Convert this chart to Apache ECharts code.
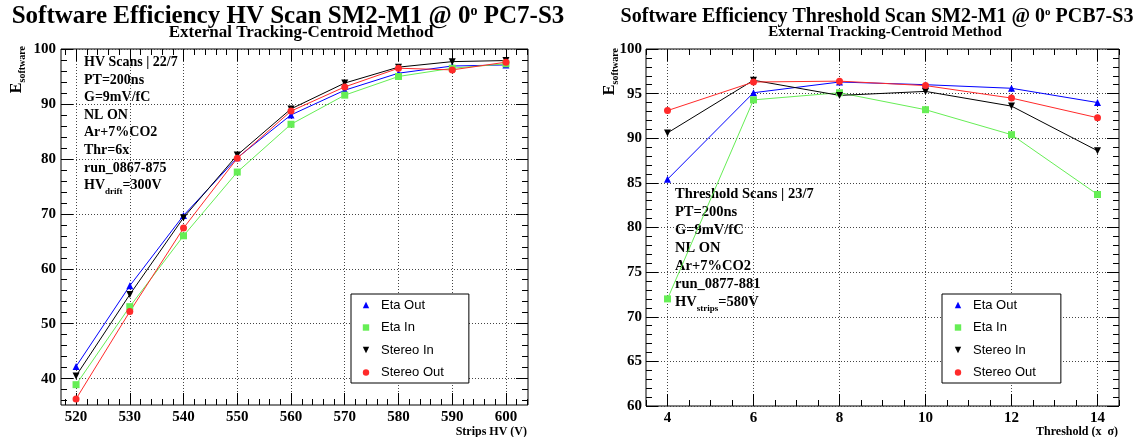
<!DOCTYPE html>
<html>
<head>
<meta charset="utf-8">
<title>Software Efficiency SM2-M1</title>
<script src="https://cdn.jsdelivr.net/npm/echarts@6/dist/echarts.min.js"></script>
<style>
  html, body { margin: 0; padding: 0; background: #fff; }
  #chart { width: 1143px; height: 437px; }
</style>
</head>
<body>
<div id="chart"></div>
<script>
// ---- HV scan (left pad) ----
var hvPoints = [520, 530, 540, 550, 560, 570, 580, 590, 600];
var hvEtaOut = [42.2, 56.9, 69.7, 80.2, 88.0, 92.5, 95.6, 96.9, 97.1];
var hvEtaIn = [38.9, 53.1, 66.0, 77.6, 86.3, 91.6, 95.0, 96.5, 97.3];
var hvStereoIn = [40.5, 55.3, 69.3, 80.7, 89.1, 93.8, 96.7, 97.7, 97.9];
var hvStereoOut = [36.3, 52.2, 67.4, 80.1, 88.7, 93.1, 96.5, 96.2, 97.6];

// ---- threshold scan (right pad) ----
var thrPoints = [4, 6, 8, 10, 12, 14];
var thrEtaOut = [85.4, 95.1, 96.3, 96.0, 95.6, 94.0];
var thrEtaIn = [72.0, 94.3, 95.1, 93.2, 90.4, 83.7];
var thrStereoIn = [90.6, 96.5, 94.8, 95.25, 93.6, 88.6];
var thrStereoOut = [93.1, 96.3, 96.4, 95.9, 94.5, 92.3];

var seriesNames = ['Eta Out', 'Eta In', 'Stereo In', 'Stereo Out'];

// tick labels
var hvTickLabels = [520, 530, 540, 550, 560, 570, 580, 590, 600];
var hvEffTickLabels = [40, 50, 60, 70, 80, 90, 100];
var thrTickLabels = [4, 6, 8, 10, 12, 14];
var thrEffTickLabels = [60, 65, 70, 75, 80, 85, 90, 95, 100];

// info boxes
var hvInfo = ['HV Scans | 22/7', 'PT=200ns', 'G=9mV/fC', 'NL ON', 'Ar+7%CO2', 'Thr=6x', 'run_0867-875', '{m|HV}{s|drift}{m|=300V}'];
var thrInfo = ['Threshold Scans | 23/7', 'PT=200ns', 'G=9mV/fC', 'NL ON', 'Ar+7%CO2', 'run_0877-881', '{m|HV}{s|strips}{m|=580V}'];

var markerStyles = [
    { color: '#0000ff', symbol: 'triangle', rotate: 0 },
    { color: '#66ee55', symbol: 'rect', rotate: 0 },
    { color: '#000000', symbol: 'triangle', rotate: 180 },
    { color: '#ff2a2a', symbol: 'circle', rotate: 0 }
];

var SERIF = '"Liberation Serif", "DejaVu Serif", serif';
var SANS = '"Liberation Sans", Arial, sans-serif';

function steps(from, to, step) {
    var out = [];
    for (var v = from; v <= to + 1e-9; v += step) out.push(Math.round(v * 100) / 100);
    return out;
}

// 4 axes per dimension: labelled major, minor, and the mirrored pair on the opposite side
function makeAxes(dim, gridIndex, min, max, major, minor, margin) {
    var sides = dim === 'x' ? ['bottom', 'top'] : ['left', 'right'];
    var list = [];
    sides.forEach(function (side, s) {
        [major, minor].forEach(function (ticks, m) {
            var isMain = s === 0 && m === 0;
            list.push({
                type: 'value',
                gridIndex: gridIndex,
                min: min,
                max: max,
                position: side,
                axisLine: { show: false, onZero: false },
                axisTick: { show: true, inside: true, length: m === 0 ? 12 : 6, customValues: ticks, lineStyle: { color: '#000', width: 1 } },
                axisLabel: { show: isMain, customValues: major, margin: margin, color: '#000', fontFamily: SERIF, fontWeight: 'bold', fontSize: 15 },
                splitLine: { show: isMain, lineStyle: { color: '#444', type: [1, 2], width: 1 } },
                minorTick: { show: false },
                minorSplitLine: { show: false }
            });
        });
    });
    return list;
}

function makeSeries(axisIndex, xs, columns) {
    return columns.map(function (ys, i) {
        var st = markerStyles[i];
        return {
            name: seriesNames[i],
            type: 'line',
            xAxisIndex: axisIndex,
            yAxisIndex: axisIndex,
            data: xs.map(function (x, j) { return [x, ys[j]]; }),
            symbol: st.symbol,
            symbolRotate: st.rotate,
            symbolSize: 7,
            lineStyle: { color: st.color, width: 1 },
            itemStyle: { color: st.color },
            emphasis: { disabled: true },
            animation: false
        };
    });
}

function makeLegend(left, padLeft) {
    return {
        data: seriesNames,
        orient: 'vertical',
        left: left,
        top: 294,
        itemWidth: 20,
        itemHeight: 8,
        itemGap: 8.5,
        padding: [4, 25, 3.5, padLeft],
        backgroundColor: '#fff',
        borderColor: '#000',
        borderWidth: 1,
        borderRadius: 0,
        selectedMode: false,
        lineStyle: { opacity: 0 },
        textStyle: { fontFamily: SANS, fontSize: 13, color: '#000', lineHeight: 14 }
    };
}

function textEl(x, y, text, font, align, vAlign, rich, rotation) {
    return {
        type: 'text',
        x: x,
        y: y,
        rotation: rotation || 0,
        silent: true,
        style: {
            text: text,
            font: font,
            fill: '#000',
            textAlign: align, align: align,
            textVerticalAlign: vAlign, verticalAlign: vAlign,
            rich: rich || {}
        }
    };
}

function infoLines(x, y0, step, lines, size) {
    var rich = {
        m: { fontFamily: SERIF, fontWeight: 'bold', fontSize: size, lineHeight: 16, verticalAlign: 'top' },
        s: { fontFamily: SERIF, fontWeight: 'bold', fontSize: 9, lineHeight: 10, padding: [9, 0, 0, 0], verticalAlign: 'top' }
    };
    return lines.map(function (t, i) {
        var txt = t.indexOf('{') === 0 ? t : '{m|' + t + '}';
        return textEl(x, y0 + i * step - 8, txt, 'bold ' + size + 'px ' + SERIF, 'left', 'top', rich);
    });
}

var supRich = function (size) {
    return { sup: { fontFamily: SERIF, fontWeight: 'bold', fontSize: size, lineHeight: size, verticalAlign: 'top' } };
};
var subRich = { sub: { fontFamily: SERIF, fontWeight: 'bold', fontSize: 10, lineHeight: 10, padding: [8, 0, 0, 0], verticalAlign: 'top' },
                e: { fontFamily: SERIF, fontWeight: 'bold', fontSize: 16, lineHeight: 16, verticalAlign: 'top' } };

var graphics = [
    textEl(288, 17, 'Software Efficiency HV Scan SM2-M1 @ 0{sup|o} PC7-S3', 'bold 25px ' + SERIF, 'center', 'middle', supRich(14)),
    textEl(301, 33, 'External Tracking-Centroid Method', 'bold 17px ' + SERIF, 'center', 'middle'),
    textEl(877, 17, 'Software Efficiency Threshold Scan SM2-M1 @ 0{sup|o} PCB7-S3', 'bold 20px ' + SERIF, 'center', 'middle', supRich(11)),
    textEl(885, 32, 'External Tracking-Centroid Method', 'bold 15px ' + SERIF, 'center', 'middle'),
    textEl(17, 46, '{e|E}{sub|software}', 'bold 16px ' + SERIF, 'right', 'middle', subRich, Math.PI / 2),
    textEl(610, 48, '{e|E}{sub|software}', 'bold 16px ' + SERIF, 'right', 'middle', subRich, Math.PI / 2),
    textEl(527, 432, 'Strips HV (V)', 'bold 12px ' + SERIF, 'right', 'middle'),
    textEl(1118, 432, 'Threshold (x  \u03c3)', 'bold 12px ' + SERIF, 'right', 'middle')
].concat(infoLines(84, 63.3, 17.6, hvInfo, 14), infoLines(675, 195, 18, thrInfo, 14.5));

var chart = echarts.init(document.getElementById('chart'), null, { renderer: 'canvas' });

chart.setOption({
    animation: false,
    backgroundColor: '#fff',
    grid: [
        { left: 61, top: 49, width: 467, height: 356, show: true, borderColor: '#000', borderWidth: 1, backgroundColor: 'transparent', outerBoundsMode: 'none' },
        { left: 646, top: 49, width: 473, height: 357, show: true, borderColor: '#000', borderWidth: 1, backgroundColor: 'transparent', outerBoundsMode: 'none' }
    ],
    xAxis: makeAxes('x', 0, 517.2, 604.1, hvTickLabels, steps(518, 604, 2), 5)
        .concat(makeAxes('x', 1, 3.5, 14.5, thrTickLabels, steps(3.5, 14.5, 0.5), 5)),
    yAxis: makeAxes('y', 0, 35.2, 100, hvEffTickLabels, steps(36, 100, 2), 5)
        .concat(makeAxes('y', 1, 60, 100, thrEffTickLabels, steps(60, 100, 1), 4)),
    legend: [makeLegend(351, 4), makeLegend(942, 5)],
    graphic: { elements: graphics },
    series: makeSeries(0, hvPoints, [hvEtaOut, hvEtaIn, hvStereoIn, hvStereoOut])
        .concat(makeSeries(4, thrPoints, [thrEtaOut, thrEtaIn, thrStereoIn, thrStereoOut]))
});
</script>
</body>
</html>
